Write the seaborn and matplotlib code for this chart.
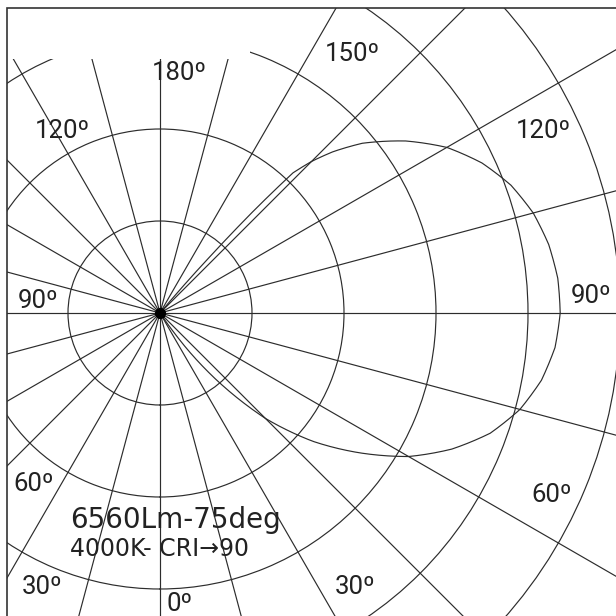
import numpy as np
import pandas as pd
import matplotlib
matplotlib.use("Agg")
import matplotlib.pyplot as plt
import seaborn as sns
from matplotlib.patches import Rectangle

# ---------------- data ----------------
angles_deg = [34, 37, 40, 45, 50, 55, 60, 65, 70, 75, 80, 85, 90, 95, 100,
              105, 110, 115, 120, 125, 130, 133, 135, 136.5, 137.5, 138.5, 140]
intensity = [0, 50, 93, 162, 217, 265, 312, 350, 382, 405, 421, 431, 435, 434, 429,
             420, 406, 386, 360, 326, 287, 257, 233, 210, 150, 80, 0]
ring_values = [100, 200, 300, 400, 500]
spoke_angles = list(range(0, 360, 15))
angle_labels = ["180º", "150º", "120º", "90º", "60º", "30º", "0º",
                "30º", "60º", "90º", "120º"]
title_line1 = "6560Lm-75deg"
title_line2 = "4000K- CRI→90"

# ---------------- layout ----------------
W = H = 616
DPI = 100
cx, cy = 160, 313          # pixel centre of the diagram
px_per_unit = 92 / 100.0   # 92 px per ring
rmax = 605
Rpx = rmax * px_per_unit

sns.set_theme(style="white")
plt.rcParams["font.family"] = ["DejaVu Sans"]

fig = plt.figure(figsize=(W / DPI, H / DPI), dpi=DPI)
fig.patch.set_facecolor("white")
ax = fig.add_axes([(cx - Rpx) / W, (H - cy - Rpx) / H, 2 * Rpx / W, 2 * Rpx / H],
                  projection="polar")
ax.set_facecolor("white")
ax.set_theta_zero_location("S")
ax.set_theta_direction(1)
ax.set_rlim(0, rmax)
ax.set_rticks(ring_values)
ax.set_yticklabels([])
ax.set_thetagrids(spoke_angles, labels=[""] * len(spoke_angles))
ax.grid(True, color="#2c2c2c", linewidth=0.85)
ax.spines["polar"].set_visible(False)
ax.tick_params(length=0)

df = pd.DataFrame({"theta": np.deg2rad(angles_deg), "r": intensity})
sns.lineplot(data=df, x="theta", y="r", ax=ax, sort=False, estimator=None,
             color="#2c2c2c", linewidth=0.85)
curve = ax.lines[-1]
curve.get_path()._interpolation_steps = 40   # draw segments along polar arcs
ax.set_xlabel("")
ax.set_ylabel("")
ax.plot([0], [0], "o", color="black", markersize=7, zorder=5)

# ---------------- masks and frame ----------------
def fx(x):
    return x / W

def fy(y):
    return 1 - y / H

fig.add_artist(Rectangle((0, 0), fx(7), 1, transform=fig.transFigure,
                         facecolor="white", edgecolor="none", zorder=10))
fig.add_artist(Rectangle((0, fy(8)), 1, 1 - fy(8), transform=fig.transFigure,
                         facecolor="white", edgecolor="none", zorder=10))
fig.add_artist(Rectangle((fx(7), fy(59)), fx(250) - fx(7), fy(8) - fy(59),
                         transform=fig.transFigure,
                         facecolor="white", edgecolor="none", zorder=10))
fig.add_artist(Rectangle((fx(7), -0.1), 1.2, fy(8) + 0.1, transform=fig.transFigure,
                         facecolor="none", edgecolor="#333333", linewidth=1.2, zorder=11))

# ---------------- angle labels ----------------
label_pos = [(152, 80), (325, 61), (516, 138), (571, 303), (531, 502), (335, 594),
             (167, 611), (22, 594), (13, 491), (18, 308), (35, 138)]
for s, (x, y) in zip(angle_labels, label_pos):
    fig.text(fx(x), fy(y), s, ha="left", va="baseline", fontsize=18.5,
             family=["Roboto", "DejaVu Sans"], color="#222222", zorder=20)

fig.text(fx(70), fy(528), title_line1, ha="left", va="baseline", fontsize=20,
         color="#222222", zorder=20)
fig.text(fx(70), fy(556), title_line2, ha="left", va="baseline", fontsize=17,
         color="#222222", zorder=20)

fig.savefig("out.png", dpi=DPI, facecolor="white")
